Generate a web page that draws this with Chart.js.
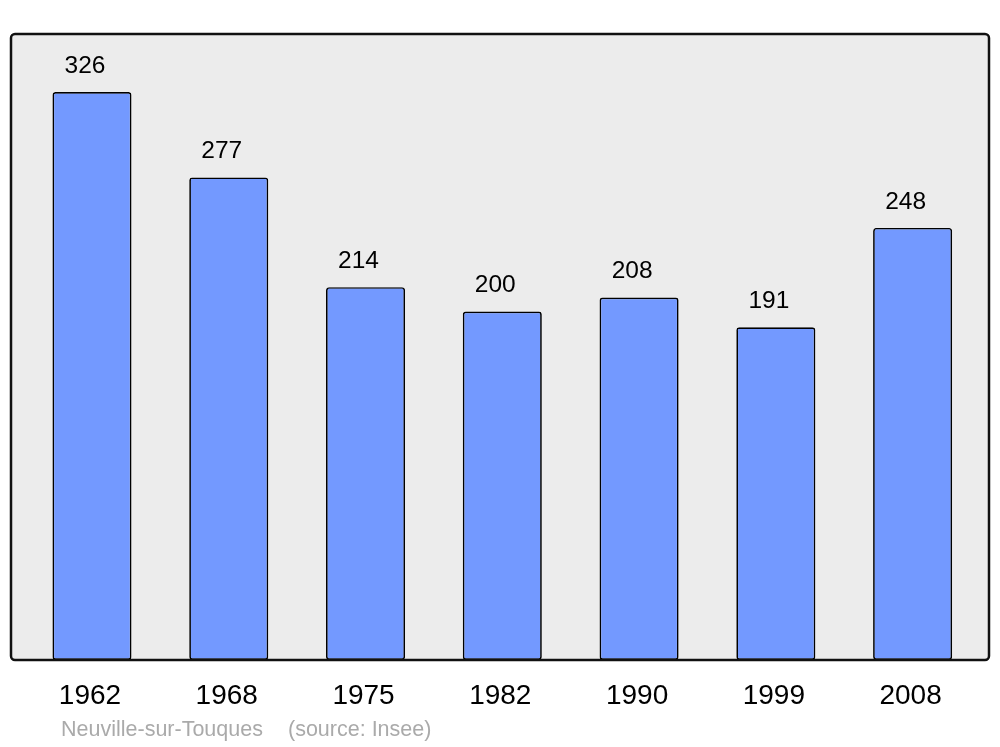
<!DOCTYPE html>
<html>
<head>
<meta charset="utf-8">
<script src="https://cdn.jsdelivr.net/npm/chart.js@4"></script>
<style>
  body { margin: 0; background: #fff; }
  #wrap { width: 1000px; height: 747px; position: relative; }
</style>
</head>
<body>
<div id="wrap"><canvas id="myChart" width="1000" height="747"></canvas></div>
<script>
const years = ['1962', '1968', '1975', '1982', '1990', '1999', '2008'];
const population = [326, 277, 214, 200, 208, 191, 248];
const footerName = 'Neuville-sur-Touques';
const footerSource = '(source: Insee)';

const frame = {
    id: 'frame',
    beforeDraw(chart) {
        const ctx = chart.ctx;
        const a = chart.chartArea;
        ctx.save();
        ctx.beginPath();
        ctx.roundRect(11, a.top, 978, a.bottom - a.top, 4);
        ctx.fillStyle = '#ececec';
        ctx.fill();
        ctx.restore();
    },
    afterDatasetsDraw(chart) {
        const ctx = chart.ctx;
        const a = chart.chartArea;
        const x = chart.scales.x;
        const meta = chart.getDatasetMeta(0);
        ctx.save();
        ctx.beginPath();
        ctx.roundRect(11, a.top, 978, a.bottom - a.top, 4);
        ctx.lineWidth = 2.5;
        ctx.strokeStyle = '#111';
        ctx.stroke();

        ctx.fillStyle = '#000';
        ctx.textAlign = 'center';
        ctx.textBaseline = 'middle';
        ctx.font = '24.5px "Liberation Sans", Arial, sans-serif';
        meta.data.forEach((bar, i) => {
            ctx.fillText(String(population[i]), bar.x - 7, bar.y - 26);
        });
        ctx.font = '28px "Liberation Sans", Arial, sans-serif';
        years.forEach((y, i) => {
            ctx.fillText(y, x.getPixelForValue(i) - 2, a.bottom + 36);
        });
        ctx.fillStyle = '#aaaaaa';
        ctx.textAlign = 'left';
        ctx.font = '21.5px "Liberation Sans", Arial, sans-serif';
        ctx.fillText(footerName, 61, 730);
        ctx.fillText(footerSource, 288, 730);
        ctx.restore();
    }
};

new Chart(document.getElementById('myChart'), {
    type: 'bar',
    data: {
        labels: years,
        datasets: [{
            data: population,
            backgroundColor: '#7399ff',
            borderColor: '#000',
            borderWidth: 1.7,
            borderRadius: 3,
            borderSkipped: false,
            barPercentage: 0.578,
            categoryPercentage: 1
        }]
    },
    options: {
        responsive: false,
        animation: false,
        layout: { padding: { left: 23.6, right: 19, top: 34, bottom: 87 } },
        plugins: { legend: { display: false }, tooltip: { enabled: false } },
        scales: {
            x: { display: false },
            y: { display: false, min: 0, max: 359.3 }
        }
    },
    plugins: [frame]
});
</script>
</body>
</html>
